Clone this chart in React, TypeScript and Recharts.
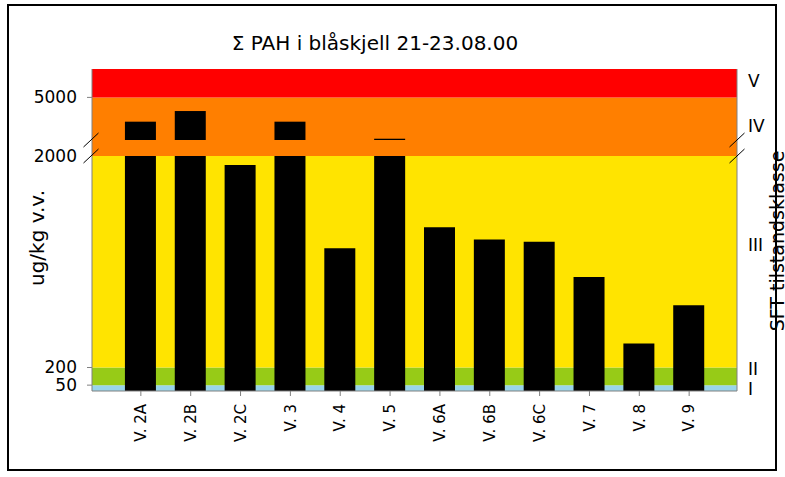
import React from 'react';
import { ComposedChart, Bar, XAxis, YAxis, ReferenceArea } from 'recharts';

// ---- data ----
const categories = ['V. 2A', 'V. 2B', 'V. 2C', 'V. 3', 'V. 4', 'V. 5', 'V. 6A', 'V. 6B', 'V. 6C', 'V. 7', 'V. 8', 'V. 9'];
const pahValues = [3290, 4040, 1925, 3290, 1215, 2090, 1395, 1290, 1270, 970, 405, 730];

const BREAK_VALUE = 2000;
const lowerDomain = [0, 2137];
const upperDomain = [2000, 7000];

const lowerTicks = [50, 200, 2000];
const upperTicks = [5000];

// class bands (SFT tilstandsklasse)
const classLimits = [0, 50, 200, 2000, 5000, 7000];
const classColors = ['#99D5EA', '#97CB17', '#FFE400', '#FF7F00', '#FF0000'];

// class label positions on the right axis
const lowerClassTicks = [17, 183, 1243];
const lowerClassLabels = ['I', 'II', 'III'];
const upperClassTicks = [3007, 6176];
const upperClassLabels = ['IV', 'V'];

const title = 'Σ PAH i blåskjell 21-23.08.00';
const yTitle = 'ug/kg v.v.';
const rightTitle = 'SFT tilstandsklasse';

const FONT = 'DejaVu Sans';
const AXIS_GREY = '#808080';

// category index axis: a little room on either side of the first/last station
const xDomain = [-0.98, 11.96];
const xTicks = categories.map((_, i) => i);

const rows = categories.map((c, i) => {
  const v = pahValues[i];
  return {
    idx: i,
    name: c,
    lower: [0, Math.min(v, BREAK_VALUE)],
    upper: v > BREAK_VALUE ? [BREAK_VALUE, v] : null,
  };
});

const LeftTick = (props: any) => {
  const { x, y, payload } = props;
  const v = payload.value;
  return (
    <g>
      {v !== BREAK_VALUE && (
        <line x1={x + 10} x2={x + 15} y1={y} y2={y} stroke={AXIS_GREY} strokeWidth={1} />
      )}
      <text x={x} y={y} dy="0.35em" textAnchor="end" fontFamily={FONT} fontSize={17} fill="#000">
        {v}
      </text>
    </g>
  );
};

const makeRightTick = (vals: number[], labels: string[]) => (props: any) => {
  const { x, y, payload } = props;
  const idx = vals.indexOf(payload.value);
  return (
    <text x={x} y={y} dy="0.35em" textAnchor="start" fontFamily={FONT} fontSize={17} fill="#000">
      {idx >= 0 ? labels[idx] : ''}
    </text>
  );
};

const XTick = (props: any) => {
  const { x, y, payload } = props;
  return (
    <g transform={`translate(${x},${y})`}>
      <text transform="rotate(-90)" x={-6} y={0} dy="0.35em" textAnchor="end" fontFamily={FONT} fontSize={15} fill="#000">
        {categories[payload.value]}
      </text>
    </g>
  );
};

const bands = (from: number, to: number) =>
  classLimits.slice(0, -1).map((lo, i) => {
    const hi = classLimits[i + 1];
    const y1 = Math.max(lo, from);
    const y2 = Math.min(hi, to);
    if (y2 <= y1) return null;
    return (
      <ReferenceArea
        key={`band-${i}`}
        yAxisId="l"
        x1={xDomain[0]}
        x2={xDomain[1]}
        y1={y1}
        y2={y2}
        fill={classColors[i]}
        fillOpacity={1}
        stroke="none"
        ifOverflow="hidden"
      />
    );
  });

export default function App() {
  const breakMarks = [
    [91, 140], [91, 156], [737, 140], [737, 156],
  ];
  return (
    <div style={{ position: 'absolute', left: 0, top: 0, width: 785, height: 477, background: '#fff' }}>
      {/* lower panel */}
      <div style={{ position: 'absolute', left: 0, top: 0 }}>
        <ComposedChart width={785} height={477} data={rows} margin={{ top: 140, right: 8, bottom: 26, left: 12 }}>
          <XAxis
            dataKey="idx"
            type="number"
            domain={xDomain}
            ticks={xTicks}
            allowDataOverflow
            height={60}
            interval={0}
            tick={<XTick />}
            tickSize={5}
            axisLine={{ stroke: AXIS_GREY }}
            tickLine={{ stroke: AXIS_GREY }}
          />
          <YAxis
            yAxisId="l"
            width={80}
            domain={lowerDomain}
            ticks={lowerTicks}
            interval={0}
            allowDataOverflow
            tickSize={5}
            tickMargin={10}
            tickLine={false}
            axisLine={{ stroke: AXIS_GREY }}
            tick={<LeftTick />}
          />
          <YAxis
            yAxisId="r"
            orientation="right"
            width={40}
            domain={lowerDomain}
            ticks={lowerClassTicks}
            interval={0}
            allowDataOverflow
            tickSize={6}
            tickMargin={5}
            tickLine={false}
            axisLine={{ stroke: AXIS_GREY }}
            tick={makeRightTick(lowerClassTicks, lowerClassLabels)}
          />
          {bands(lowerDomain[0], lowerDomain[1])}
          <Bar yAxisId="l" dataKey="lower" fill="#000" barSize={31} isAnimationActive={false} />
        </ComposedChart>
      </div>
      {/* upper panel */}
      <div style={{ position: 'absolute', left: 0, top: 0 }}>
        <ComposedChart width={785} height={160} data={rows} margin={{ top: 69, right: 8, bottom: 20, left: 12 }}>
          <XAxis dataKey="idx" type="number" domain={xDomain} ticks={xTicks} allowDataOverflow hide />
          <YAxis
            yAxisId="l"
            width={80}
            domain={upperDomain}
            ticks={upperTicks}
            interval={0}
            allowDataOverflow
            tickSize={5}
            tickMargin={10}
            tickLine={false}
            axisLine={{ stroke: AXIS_GREY }}
            tick={<LeftTick />}
          />
          <YAxis
            yAxisId="r"
            orientation="right"
            width={40}
            domain={upperDomain}
            ticks={upperClassTicks}
            interval={0}
            allowDataOverflow
            tickSize={6}
            tickMargin={5}
            tickLine={false}
            axisLine={{ stroke: AXIS_GREY }}
            tick={makeRightTick(upperClassTicks, upperClassLabels)}
          />
          {bands(upperDomain[0], upperDomain[1])}
          <Bar yAxisId="l" dataKey="upper" fill="#000" barSize={31} isAnimationActive={false} />
        </ComposedChart>
      </div>
      {/* decorations */}
      <svg width={785} height={477} style={{ position: 'absolute', left: 0, top: 0, pointerEvents: 'none' }}>
        {breakMarks.map(([cx, cy], i) => (
          <line key={i} x1={cx - 7.5} y1={cy + 7} x2={cx + 7.5} y2={cy - 7} stroke="#000" strokeWidth={1} />
        ))}
        <text x={375} y={43} dy="0.35em" textAnchor="middle" fontFamily={FONT} fontSize={20} fill="#000">
          {title}
        </text>
        <text
          transform="translate(37,238) rotate(-90)"
          textAnchor="middle"
          dy="0.35em"
          fontFamily={FONT}
          fontSize={20}
          fill="#000"
        >
          {yTitle}
        </text>
        <text
          transform="translate(777,241) rotate(-90)"
          textAnchor="middle"
          dy="0.35em"
          fontFamily={FONT}
          fontSize={19}
          fill="#000"
        >
          {rightTitle}
        </text>
        <rect x={8} y={5} width={768} height={465} fill="none" stroke="#000" strokeWidth={2} />
      </svg>
    </div>
  );
}
